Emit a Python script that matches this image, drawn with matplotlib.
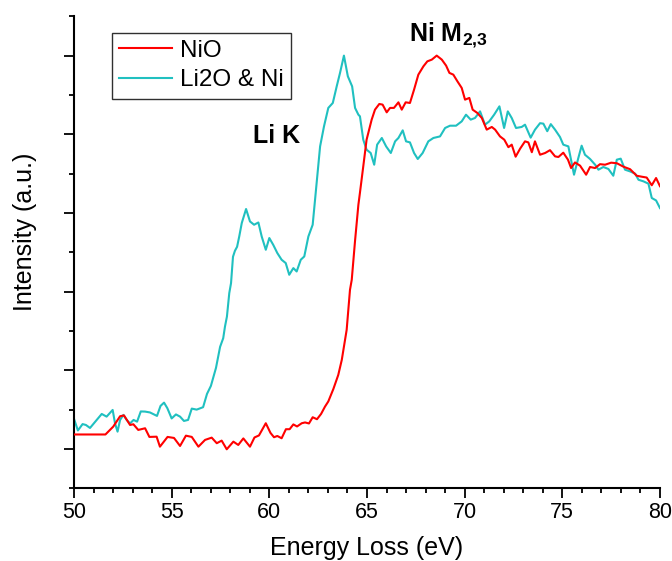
import numpy as np
import matplotlib
matplotlib.use("Agg")
import matplotlib.pyplot as plt
from matplotlib.ticker import MultipleLocator

# ----------------------------
# Fuente y estilo
# ----------------------------
plt.rcParams['font.family'] = ['Liberation Sans', 'DejaVu Sans']
plt.rcParams['mathtext.fontset'] = 'custom'
plt.rcParams['mathtext.rm'] = 'Liberation Sans'
plt.rcParams['mathtext.bf'] = 'Liberation Sans:bold'

# ----------------------------
# Datos
# ----------------------------
energy_nio = [50.00, 51.61, 52.01, 52.36, 52.56, 52.87, 53.04, 53.29, 53.64, 53.86,
              54.23, 54.40, 54.79, 55.12, 55.43, 55.73, 56.03, 56.37, 56.71, 57.05,
              57.31, 57.56, 57.82, 58.16, 58.41, 58.67, 59.01, 59.24, 59.47, 59.82,
              60.06, 60.24, 60.41, 60.63, 60.85, 61.04, 61.23, 61.42, 61.66, 61.83,
              62.03, 62.22, 62.44, 62.65, 62.85, 63.02, 63.28, 63.53, 63.71, 63.96,
              64.13, 64.22, 64.39, 64.56, 64.64, 64.81, 64.98, 65.24, 65.41, 65.63,
              65.80, 66.01, 66.18, 66.38, 66.61, 66.78, 66.98, 67.20, 67.41, 67.63,
              67.89, 68.09, 68.32, 68.57, 68.83, 69.05, 69.22, 69.42, 69.63, 69.85,
              70.02, 70.24, 70.41, 70.65, 70.88, 71.13, 71.39, 71.56, 71.81, 72.03,
              72.24, 72.41, 72.61, 72.84, 73.09, 73.26, 73.44, 73.60, 73.86, 74.12,
              74.37, 74.63, 74.80, 75.05, 75.29, 75.45, 75.65, 75.91, 76.22, 76.42,
              76.68, 76.93, 77.19, 77.50, 77.79, 78.13, 78.47, 78.81, 79.06, 79.32,
              79.58, 79.80, 80.00]
int_nio = [0.684, 0.684, 0.784, 0.916, 0.926, 0.805, 0.814, 0.742, 0.763, 0.653,
           0.656, 0.529, 0.653, 0.640, 0.538, 0.669, 0.653, 0.529, 0.615, 0.644,
           0.573, 0.606, 0.496, 0.593, 0.551, 0.634, 0.529, 0.646, 0.672, 0.827,
           0.704, 0.649, 0.665, 0.636, 0.751, 0.751, 0.812, 0.786, 0.827, 0.837,
           0.824, 0.903, 0.878, 0.945, 1.038, 1.104, 1.263, 1.441, 1.632, 2.014,
           2.523, 2.650, 3.149, 3.604, 3.757, 4.092, 4.431, 4.686, 4.813, 4.885,
           4.877, 4.779, 4.835, 4.835, 4.906, 4.813, 4.906, 4.898, 5.067, 5.258,
           5.364, 5.427, 5.449, 5.500, 5.449, 5.373, 5.280, 5.258, 5.173, 5.089,
           4.940, 4.962, 4.813, 4.771, 4.707, 4.559, 4.593, 4.559, 4.473, 4.431,
           4.336, 4.368, 4.215, 4.317, 4.410, 4.397, 4.272, 4.410, 4.240, 4.262,
           4.298, 4.219, 4.211, 4.266, 4.177, 4.071, 4.142, 4.101, 3.986, 4.084,
           4.071, 4.120, 4.113, 4.139, 4.132, 4.088, 4.056, 3.973, 3.961, 3.950,
           3.852, 3.944, 3.840]

energy_li = [50.02, 50.20, 50.44, 50.61, 50.82, 51.08, 51.42, 51.67, 51.98, 52.10,
             52.23, 52.36, 52.53, 52.70, 52.87, 53.05, 53.23, 53.42, 53.64, 53.89,
             54.25, 54.43, 54.61, 54.78, 55.00, 55.22, 55.43, 55.63, 55.84, 56.03,
             56.28, 56.61, 56.81, 57.01, 57.27, 57.48, 57.64, 57.73, 57.83, 57.95,
             58.04, 58.14, 58.24, 58.35, 58.46, 58.59, 58.81, 59.01, 59.22, 59.44,
             59.61, 59.82, 60.00, 60.20, 60.41, 60.63, 60.84, 61.02, 61.23, 61.40,
             61.61, 61.79, 62.00, 62.22, 62.39, 62.60, 62.80, 63.02, 63.25, 63.45,
             63.62, 63.82, 64.02, 64.24, 64.39, 64.56, 64.64, 64.81, 64.98, 65.19,
             65.37, 65.52, 65.76, 65.98, 66.22, 66.44, 66.61, 66.83, 67.00, 67.20,
             67.41, 67.60, 67.85, 68.14, 68.40, 68.74, 69.00, 69.25, 69.56, 69.85,
             70.07, 70.31, 70.53, 70.79, 71.04, 71.26, 71.51, 71.78, 72.02, 72.21,
             72.41, 72.63, 72.92, 73.09, 73.38, 73.60, 73.86, 74.03, 74.23, 74.41,
             74.63, 74.88, 75.05, 75.31, 75.48, 75.60, 75.82, 75.99, 76.16, 76.42,
             76.68, 76.85, 77.10, 77.36, 77.61, 77.79, 77.99, 78.21, 78.47, 78.73,
             78.90, 79.16, 79.41, 79.58, 79.80, 80.00]
int_li = [0.869, 0.735, 0.816, 0.805, 0.767, 0.844, 0.945, 0.911, 0.996, 0.827,
          0.720, 0.869, 0.933, 0.869, 0.824, 0.869, 0.847, 0.977, 0.975, 0.964,
          0.920, 1.047, 1.089, 1.018, 0.888, 0.939, 0.911, 0.856, 0.869, 1.013,
          1.000, 1.031, 1.200, 1.302, 1.531, 1.798, 1.908, 2.056, 2.183, 2.481,
          2.608, 2.943, 3.019, 3.070, 3.201, 3.372, 3.550, 3.392, 3.350, 3.379,
          3.201, 3.032, 3.181, 3.095, 2.990, 2.905, 2.863, 2.714, 2.799, 2.756,
          2.905, 2.947, 3.201, 3.350, 3.795, 4.346, 4.601, 4.835, 4.898, 5.109,
          5.280, 5.500, 5.237, 5.109, 4.835, 4.749, 4.728, 4.431, 4.304, 4.262,
          4.113, 4.368, 4.453, 4.346, 4.262, 4.410, 4.453, 4.550, 4.410, 4.397,
          4.262, 4.186, 4.262, 4.410, 4.453, 4.473, 4.580, 4.609, 4.609, 4.664,
          4.749, 4.686, 4.707, 4.791, 4.622, 4.664, 4.749, 4.855, 4.580, 4.791,
          4.707, 4.580, 4.593, 4.622, 4.457, 4.558, 4.641, 4.635, 4.539, 4.629,
          4.558, 4.466, 4.368, 4.346, 4.135, 3.986, 4.198, 4.355, 4.240, 4.186,
          4.113, 4.050, 4.084, 4.059, 3.973, 4.177, 4.190, 4.050, 4.028, 3.999,
          3.922, 3.901, 3.872, 3.690, 3.659, 3.562]

# Colores
color_nio = "#FF0000"
color_li = "#20C0C0"

# ----------------------------
# Figura
# ----------------------------
fig = plt.figure(figsize=(6.72, 5.61), dpi=100)
ax = fig.add_axes([0.1101, 0.1296, 0.8720, 0.8414])

ax.plot(energy_nio, int_nio, '-', color=color_nio, lw=1.5, label='NiO', zorder=3)
ax.plot(energy_li, int_li, '-', color=color_li, lw=1.5, label='Li2O & Ni', zorder=2)

# Etiquetas de los bordes
ax.text(59.15, 4.39, 'Li K', fontsize=18, fontweight='bold', ha='left', va='baseline')
ax.text(67.15, 5.68, r'Ni M$_\mathbf{2{,}3}$', fontsize=18, fontweight='bold',
        ha='left', va='baseline')

# Ejes
ax.set_xlim(50, 80)
ax.set_ylim(0, 6)
ax.xaxis.set_major_locator(MultipleLocator(5))
ax.xaxis.set_minor_locator(MultipleLocator(1))
ax.set_yticks([0.5, 1.5, 2.5, 3.5, 4.5, 5.5])
ax.set_yticks([0, 1, 2, 3, 4, 5, 6], minor=True)
ax.set_yticklabels([])

for side in ['top', 'right']:
    ax.spines[side].set_visible(False)
for side in ['left', 'bottom']:
    ax.spines[side].set_linewidth(1.5)

ax.tick_params(which='major', direction='out', length=7.2, width=1.3,
               labelsize=15.5, pad=3)
ax.tick_params(which='minor', direction='out', length=3.6, width=1.3)

ax.set_xlabel('Energy Loss (eV)', fontsize=18)
ax.set_ylabel('Intensity (a.u.)', fontsize=18)
ax.xaxis.set_label_coords(0.5, -0.102)
ax.yaxis.set_label_coords(-0.063, 0.543)

leg = ax.legend(loc='upper left', bbox_to_anchor=(0.0643, 0.9653),
                borderaxespad=0, fontsize=17.5, fancybox=False,
                edgecolor='#303030', framealpha=1, handlelength=2.2,
                handletextpad=0.3, labelspacing=0.3, borderpad=0.3)
leg.get_frame().set_linewidth(1.0)

plt.savefig('out.png', dpi=100)
plt.close()
